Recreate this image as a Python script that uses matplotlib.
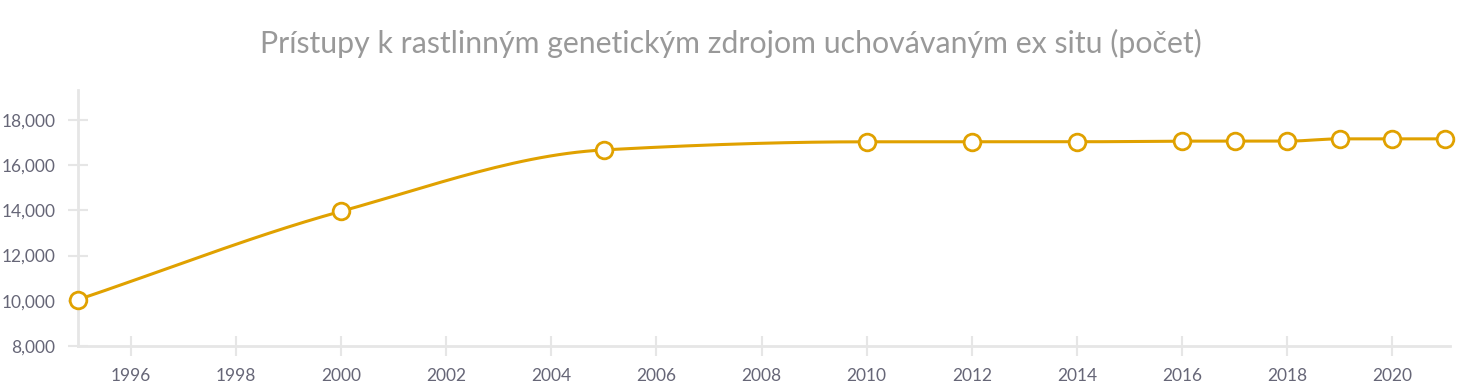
import numpy as np
import matplotlib.pyplot as plt
from matplotlib.ticker import FuncFormatter

# data
years = [1995, 2000, 2005, 2010, 2012, 2014, 2016, 2017, 2018, 2019, 2020, 2021]
counts = [10050, 13960, 16680, 17040, 17040, 17040, 17070, 17070, 17070, 17170, 17170, 17170]
xticks = list(range(1996, 2021, 2))
yticks = list(range(8000, 18001, 2000))

gold = '#e0a100'
grid_c = '#e6e6e6'
label_c = '#666677'


def monotone_curve(x, y, n=30):
    # monotone cubic (pchip-like) curve through the points, for drawing only
    x = np.asarray(x, float)
    y = np.asarray(y, float)
    h = np.diff(x)
    d = np.diff(y) / h
    m = np.zeros_like(y)
    m[0], m[-1] = d[0], d[-1]
    for i in range(1, len(x) - 1):
        if d[i - 1] * d[i] <= 0:
            m[i] = 0
        else:
            w1 = 2 * h[i] + h[i - 1]
            w2 = h[i] + 2 * h[i - 1]
            m[i] = (w1 + w2) / (w1 / d[i - 1] + w2 / d[i])
    xs, ys = [], []
    for i in range(len(x) - 1):
        t = np.linspace(0, 1, n)
        h00 = 2 * t**3 - 3 * t**2 + 1
        h10 = t**3 - 2 * t**2 + t
        h01 = -2 * t**3 + 3 * t**2
        h11 = t**3 - t**2
        xs.extend(x[i] + t * h[i])
        ys.extend(h00 * y[i] + h10 * h[i] * m[i] + h01 * y[i + 1] + h11 * h[i] * m[i + 1])
    return np.array(xs), np.array(ys)


plt.rcParams['font.family'] = ['Lato', 'DejaVu Sans']

fig = plt.figure(figsize=(14.62, 3.9), dpi=100)
ax = fig.add_axes([0.0534, 0.113, 0.9386, 0.656])

cx, cy = monotone_curve(years, counts)
ax.plot(cx, cy, color=gold, lw=2.2, zorder=3, clip_on=False)
ax.plot(years, counts, 'o', ms=12, mfc='white', mec=gold, mew=2.0, zorder=4, clip_on=False)

ax.set_xlim(1995, 2021.1)
ax.set_ylim(8000, 19330)
ax.set_xticks(xticks)
ax.set_yticks(yticks)
ax.yaxis.set_major_formatter(FuncFormatter(lambda v, p: f'{int(v):,}'))

for s in ['top', 'right']:
    ax.spines[s].set_visible(False)
for s in ['left', 'bottom']:
    ax.spines[s].set_color(grid_c)
    ax.spines[s].set_linewidth(2)

ax.tick_params(axis='both', direction='inout', length=14.4, width=1.5, color=grid_c,
               labelcolor=label_c, labelsize=12.5)
ax.tick_params(axis='y', pad=9)
ax.tick_params(axis='x', pad=9)

fig.suptitle('Prístupy k rastlinným genetickým zdrojom uchovávaným ex situ (počet)',
             x=0.5, y=0.925, fontsize=21.8, color='#999999')

plt.savefig('out.png', dpi=100)
